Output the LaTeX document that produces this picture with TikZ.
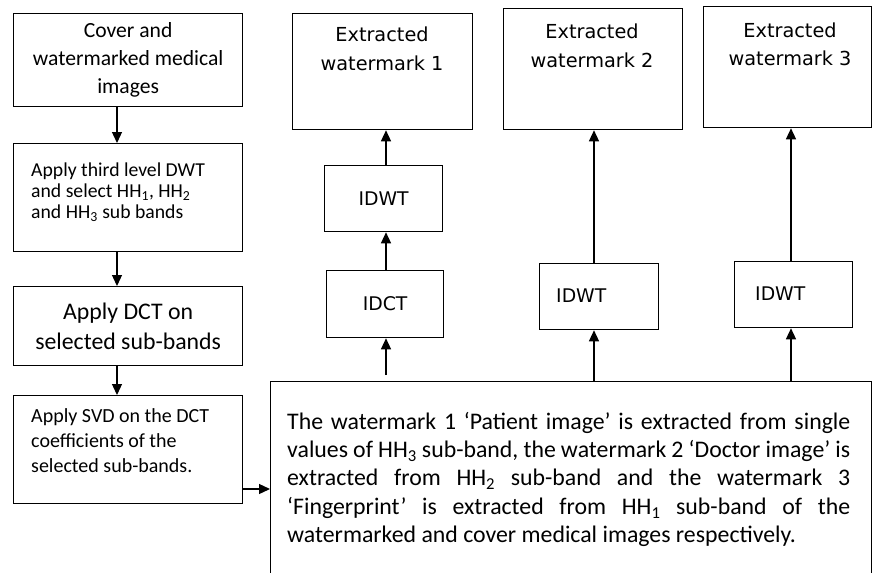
\documentclass[tikz,border=0pt]{standalone}
\usepackage{fontspec}
\setmainfont{Carlito}
\newfontfamily\dvs{DejaVu Sans}
\usetikzlibrary{arrows.meta}
\begin{document}
\begin{tikzpicture}[x=1pt,y=-1pt,
  box/.style={draw, line width=1.3pt, inner sep=0pt, anchor=north west},
  arr/.style={-{Triangle[length=11pt,width=10pt]}, line width=1.3pt},
  inbox/.style={anchor=north west, inner sep=0pt, align=left},
  ewtext/.style={anchor=north, inner sep=0pt, align=center, font=\dvs\fontsize{19.3}{29}\selectfont},
  smallbox/.style={box, minimum width=118pt, minimum height=66pt, font=\dvs\fontsize{18.8}{22}\selectfont}
]
\useasboundingbox (0,0) rectangle (873,573);
\clip (0,0) rectangle (873,573);
\fill[white] (0,0) rectangle (873,573);

% left column
\node[box, minimum width=229pt, minimum height=93pt, align=center,
      font=\fontsize{21.6}{28}\selectfont] (b1) at (13,13) {Cover and\\watermarked medical\\images};
\node[box, minimum width=229pt, minimum height=108pt] (b2) at (13,143) {};
\node[inbox, font=\fontsize{19.7}{21}\selectfont] (t2) at (31,163)
  {Apply third level DWT\\and select HH\textsubscript{1}, HH\textsubscript{2}\\and HH\textsubscript{3} sub bands};
\node[box, minimum width=229pt, minimum height=79pt, align=center,
      font=\fontsize{23.8}{30}\selectfont] (b3) at (13,286) {Apply DCT on\\selected sub-bands};
\node[box, minimum width=229pt, minimum height=108pt] (b4) at (13,395) {};
\node[inbox, font=\fontsize{20}{25}\selectfont] (t4) at (31,408)
  {Apply SVD on the DCT\\coefficients of the\\selected sub-bands.};

% extracted watermarks
\node[box, minimum width=180pt, minimum height=116pt] (ew1) at (292,13) {};
\node[ewtext] (e1t) at (382,27) {Extracted\\watermark 1};
\node[box, minimum width=179pt, minimum height=121pt] (ew2) at (503,8) {};
\node[ewtext] (e2t) at (592,24) {Extracted\\watermark 2};
\node[box, minimum width=168pt, minimum height=121pt] (ew3) at (703,6) {};
\node[ewtext, font=\dvs\fontsize{19.3}{28}\selectfont] (e3t) at (790,23) {Extracted\\watermark 3};

% intermediate boxes
\node[smallbox] (idwt1) at (324,165) {IDWT};
\node[smallbox, minimum width=117pt, minimum height=67pt] (idct) at (326,270) {IDCT};
\node[box, minimum width=119pt, minimum height=66pt] (idwt2) at (539,263) {};
\node[anchor=west, inner sep=0pt, font=\dvs\fontsize{18.8}{22}\selectfont] (i2t) at (556,296) {IDWT};
\node[box, minimum width=118pt, minimum height=66pt] (idwt3) at (734,261) {};
\node[anchor=west, inner sep=0pt, font=\dvs\fontsize{18.8}{22}\selectfont] (i3t) at (755,294) {IDWT};

% big box
\node[box, minimum width=601pt, minimum height=230pt] (big) at (270,381) {};
\node[anchor=north west, inner sep=0pt, text width=563pt, align=justify,
      font=\fontsize{23.8}{28.3}\selectfont] (bigt) at (287,412)
  {The watermark 1 ‘Patient image’ is extracted from single\linebreak
   values of HH\textsubscript{3} sub-band, the watermark 2 ‘Doctor image’ is\linebreak
   extracted from HH\textsubscript{2} sub-band and the watermark 3\linebreak
   ‘Fingerprint’ is extracted from HH\textsubscript{1} sub-band of the\linebreak
   watermarked and cover medical images respectively.};

% arrow columns
\coordinate (lc) at (117,0);
\coordinate (c1) at (386,0);
\coordinate (c2) at (594,0);
\coordinate (c3) at (791,0);
\coordinate (svdout) at (0,489);

\draw[arr] (b1.south -| lc) -- (b2.north -| lc);
\draw[arr] (b2.south -| lc) -- (b3.north -| lc);
\draw[arr] (b3.south -| lc) -- (b4.north -| lc);
\draw[arr] (b4.east |- svdout) -- (big.west |- svdout);

\draw[arr, shorten <=6pt] (big.north -| c1) -- (idct.south -| c1);
\draw[arr] (idct.north -| c1) -- (idwt1.south -| c1);
\draw[arr] (idwt1.north -| c1) -- (ew1.south -| c1);

\draw[arr] (big.north -| c2) -- (idwt2.south -| c2);
\draw[arr] (idwt2.north -| c2) -- (ew2.south -| c2);

\draw[arr] (big.north -| c3) -- (idwt3.south -| c3);
\draw[arr] (idwt3.north -| c3) -- (ew3.south -| c3);
\end{tikzpicture}
\end{document}
